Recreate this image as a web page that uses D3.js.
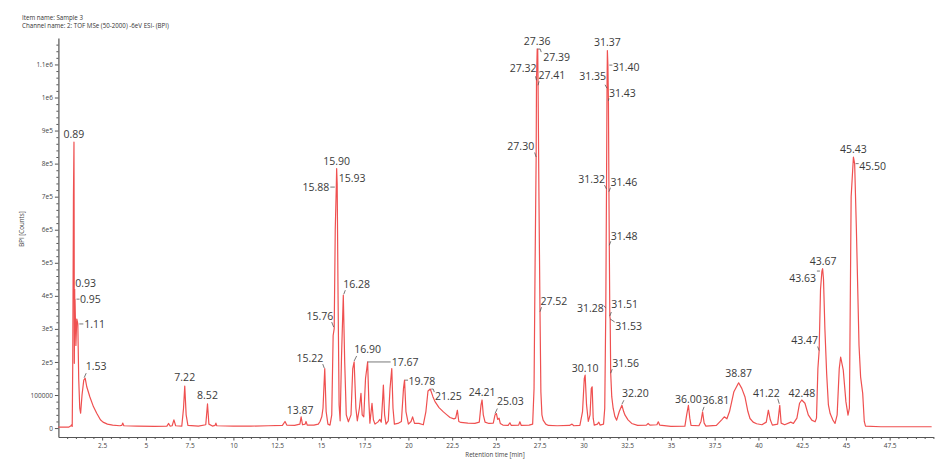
<!DOCTYPE html>
<html>
<head>
<meta charset="utf-8">
<script src="https://cdn.jsdelivr.net/npm/d3@7"></script>
<style>
  html, body { margin: 0; padding: 0; background: #fff; }
  svg { display: block; }
</style>
</head>
<body>
<svg id="chart" width="949" height="466"></svg>
<script>
// ---------------- DATA ----------------
const headerLines = ["Item name: Sample 3", "Channel name: 2: TOF MSe (50-2000) -6eV ESI- (BPI)"];
const xTitle = "Retention time [min]";
const yTitle = "BPI [Counts]";

const xTickValues = [2.5,5,7.5,10,12.5,15,17.5,20,22.5,25,27.5,30,32.5,35,37.5,40,42.5,45,47.5];
const xTickLabels = ["2.5","5","7.5","10","12.5","15","17.5","20","22.5","25","27.5","30","32.5","35","37.5","40","42.5","45","47.5"];
const yTickValues = [0,100000,200000,300000,400000,500000,600000,700000,800000,900000,1000000,1100000];
const yTickLabels = ["0","100000","2e5","3e5","4e5","5e5","6e5","7e5","8e5","9e5","1e6","1.1e6"];

// chromatogram trace: retention time (min) and intensity (counts)
const traceTime = [
 0.00,0.60,0.70,0.75,0.79,0.82,0.86,0.89,0.90,0.91,0.93,0.94,0.95,1.00,1.05,1.11,1.16,1.22,1.27,1.35,1.45,1.53,1.62,1.80,2.00,2.19,2.40,2.55,2.80,3.10,3.50,3.62,3.68,3.74,4.50,5.50,
 6.20,6.30,6.38,6.50,6.60,6.70,7.05,7.15,7.22,7.30,7.40,8.00,8.42,8.52,8.60,8.80,8.95,9.00,9.05,10.0,11.0,12.0,12.8,12.95,13.05,13.5,13.8,13.87,13.95,14.1,14.15,14.22,14.6,14.85,14.95,
 15.05,15.12,15.22,15.30,15.40,15.52,15.62,15.70,15.76,15.82,15.88,15.90,15.93,15.98,16.04,16.10,16.18,16.28,16.36,16.45,16.57,16.72,16.82,16.90,17.00,17.08,17.20,17.29,17.36,17.45,
 17.55,17.67,17.74,17.80,17.92,18.00,18.09,18.25,18.37,18.45,18.52,18.57,18.64,18.72,18.85,18.95,19.05,19.12,19.20,19.40,19.60,19.72,19.78,19.86,20.00,20.15,20.24,20.35,20.60,20.85,
 21.00,21.12,21.25,21.40,21.52,21.75,22.00,22.20,22.38,22.60,22.70,22.80,22.88,23.00,23.40,23.80,24.05,24.15,24.21,24.28,24.38,24.60,24.85,24.95,25.03,25.10,25.18,25.25,25.40,25.70,25.80,25.88,
 26.30,26.37,26.45,26.90,27.10,27.18,27.24,27.30,27.32,27.36,27.39,27.41,27.46,27.52,27.57,27.63,27.70,27.85,28.00,28.50,29.20,29.35,29.45,29.80,29.95,30.05,30.10,30.18,30.28,30.38,30.45,30.50,
 30.56,30.62,30.80,30.88,30.95,31.15,31.22,31.28,31.32,31.35,31.37,31.40,31.43,31.46,31.48,31.51,31.53,31.56,31.62,31.70,31.80,31.90,32.05,32.20,32.30,32.38,32.55,32.76,33.10,33.60,33.70,33.80,
 34.20,34.28,34.36,35.00,35.80,35.90,36.00,36.08,36.15,36.60,36.72,36.81,36.90,37.00,37.60,37.90,38.05,38.20,38.35,38.60,38.87,39.05,39.23,39.40,39.52,39.70,39.90,40.20,40.45,40.57,40.68,40.80,
 41.10,41.22,41.30,41.50,41.85,42.00,42.20,42.35,42.48,42.66,42.85,43.05,43.24,43.32,43.40,43.47,43.55,43.63,43.67,43.72,43.80,43.90,44.00,44.10,44.25,44.38,44.50,44.62,44.70,44.85,45.00,45.12,
 45.20,45.30,45.43,45.50,45.60,45.75,45.84,45.96,46.05,46.12,47.00,48.00,49.90
];
const traceIntensity = [
 3000,3000,6000,10000,5000,200000,700000,865000,600000,196000,420000,330000,390000,250000,330000,315000,150000,60000,45000,100000,145000,151000,125000,94000,65000,45000,25000,18000,12000,9000,7000,8000,15000,7000,6000,5000,
 6000,14000,6000,7000,25000,7000,6000,60000,127000,40000,8000,6000,10000,73000,12000,6000,8000,15000,7000,6000,6000,7000,8000,20000,9000,8000,12000,34000,10000,12000,20000,9000,9000,12000,20000,
 34000,60000,180000,50000,12000,9000,40000,280000,301000,600000,729000,785000,739000,400000,70000,22000,220000,402000,200000,40000,19000,40000,180000,200000,60000,22000,60000,105000,40000,34000,
 150000,200000,80000,15000,75000,25000,12000,18000,26000,18000,80000,130000,40000,12000,22000,120000,180000,60000,12000,14000,20000,120000,145000,50000,12000,20000,34000,14000,14000,10000,
 50000,112000,118000,95000,80000,62000,49000,40000,32000,28000,30000,54000,20000,17000,15000,14000,18000,70000,85000,40000,18000,14000,15000,40000,44000,26000,30000,14000,9000,8000,16000,8000,
 9000,19000,8000,9000,12000,120000,500000,820000,1052000,1147000,1145000,1037000,700000,352000,110000,40000,24000,12000,8000,7000,8000,12000,7000,8000,50000,150000,160000,70000,20000,40000,120000,125000,
 30000,9000,12000,18000,9000,12000,60000,363000,723000,1028000,1142000,1098000,990000,715000,553000,339000,330000,166000,95000,60000,35000,24000,50000,69000,50000,39000,25000,14000,8000,9000,14000,9000,
 10000,19000,9000,5000,6000,40000,69000,30000,8000,7000,20000,49000,15000,6000,8000,25000,34000,28000,50000,110000,137000,120000,95000,50000,29000,18000,13000,10000,18000,54000,25000,9000,
 12000,69000,15000,10000,18000,14000,30000,75000,85000,75000,40000,24000,19000,30000,180000,233000,420000,475000,482000,450000,300000,165000,70000,44000,25000,14000,40000,180000,215000,175000,80000,39000,
 60000,700000,820000,800000,600000,250000,155000,105000,20000,6000,4000,4000,4000
];

// annotated peaks
const peakLabels = ["0.89","0.93","0.95","1.11","1.53","7.22","8.52","13.87","15.22","15.76","15.88","15.90","15.93","16.28","16.90","17.67","19.78","21.25","24.21","25.03",
 "27.30","27.32","27.36","27.39","27.41","27.52","30.10","31.28","31.32","31.35","31.37","31.40","31.43","31.46","31.48","31.51","31.53","31.56","32.20","36.00","36.81","38.87",
 "41.22","42.48","43.47","43.63","43.67","45.43","45.50"];
const peakTimes = [0.89,0.93,0.95,1.11,1.53,7.22,8.52,13.87,15.22,15.76,15.88,15.90,15.93,16.28,16.90,17.67,19.78,21.25,24.21,25.03,
 27.30,27.32,27.36,27.39,27.41,27.52,30.10,31.28,31.32,31.35,31.37,31.40,31.43,31.46,31.48,31.51,31.53,31.56,32.20,36.00,36.81,38.87,
 41.22,42.48,43.47,43.63,43.67,45.43,45.50];
const peakValues = [865000,420000,390000,315000,151000,127000,73000,34000,180000,301000,729000,785000,739000,402000,200000,200000,145000,118000,85000,44000,
 820000,1052000,1147000,1145000,1037000,352000,160000,363000,723000,1028000,1142000,1098000,990000,715000,553000,339000,330000,166000,69000,69000,49000,137000,
 69000,85000,233000,475000,482000,820000,800000];

// label placement (pixel offsets from the annotated point) and leader strokes
const labelLayout = [
 ["middle",0,-4,null],["start",0.5,-2.5,null],["start",5,4,[[1.5,0],[4.5,0]]],["start",6.5,4,[[1.5,0],[5.5,0]]],["start",0.5,-8,[[-1,-0.5],[1,-5]]],
 ["middle",0,-5,null],["middle",0,-5,null],["middle",-1,-3,null],["end",-1.5,-6.5,[[-0.5,-0.5],[-2,-4.5]]],["end",-1,-8.5,[[-0.5,-1.5],[-2.5,-6.5]]],
 ["end",-7,3.5,[[-6,0],[-1.5,0]]],["middle",0,-3.5,null],["start",1.5,-2,null],["start",0,-7.5,[[0.5,-1],[2,-5]]],["start",0,-8.6,[[0,-1],[2.5,-6]]],
 ["start",24,4.5,[[0,0],[23,0]]],["start",4,5,[[0.5,0],[3.5,0]]],["start",4.7,11,[[1,0],[3,0],[4,3]]],["middle",0,-3.5,null],["start",0.5,-8.5,[[-1.4,0],[0.9,-5]]],
 ["end",-2,-6.7,[[-1.5,-4.5],[0,0]]],["end",0,-8.3,[[-1,-4],[0,0]]],["middle",0,-4,null],["start",5.6,11.6,[[0,-0.5],[2.5,-0.5],[3.5,2.5]]],["start",0.5,-6.7,[[0,0],[1,-4]]],
 ["start",0.5,-6.7,[[0,0],[1.5,-4.5]]],["middle",0,-3,null],["end",-2,3.7,[[-2,-2.5],[0,0]]],["end",-1.5,-6,[[-2,-4],[0,0]]],["end",-1,-8,[[-2,-3.5],[0,0]]],
 ["middle",0,-4.5,null],["start",4.8,5.4,[[1.4,0],[4.5,0]]],["start",0.5,-4,[[0,0],[0.5,-2.5]]],["start",1.5,-5.7,[[0,0],[1.5,-4]]],["start",1.5,-5.7,[[0,0],[1.5,-4]]],
 ["start",1.5,-8,[[0,0],[1.5,-4]]],["start",5,11,[[0,0],[4.5,3]]],["start",1.5,-5.7,[[0,0],[1.5,-4]]],["start",0,-8,[[0,-1],[2,-5]]],["middle",0,-2.5,null],
 ["start",0,-8,[[0,-1],[1.5,-5]]],["middle",0,-5.5,null],["end",0,-8.5,[[-2,-6.5],[-0.5,-1.5]]],["middle",0,-3,null],["end",-1,-7,[[-1.5,-4.5],[0,-0.5]]],
 ["end",-6,10.5,[[-5,0],[-2,0]]],["start",-13,-3.6,null],["middle",0,-3.6,null],["start",4.7,6.5,[[1,0],[4,0]]]
];

// ---------------- DRAW ----------------
const svg = d3.select("#chart");
svg.append("rect").attr("width",949).attr("height",466).attr("fill","#fff");

const x = d3.scaleLinear().domain([0, 50]).range([58.4, 933.4]);
const y = d3.scaleLinear().domain([-27000, 1180000]).range([437, 38]);

// header
svg.append("g").selectAll("text").data(headerLines).join("text")
  .attr("x", 22).attr("y", (d,i) => 20 + i*8)
  .attr("font-family", "Open Sans, sans-serif").attr("font-size", 6.2).attr("fill", "#333")
  .text(d => d);

const axisColor = "#555";
const tickFont = "Open Sans, sans-serif";

// minor ticks
const xMinor = d3.range(0.5, 50.01, 0.5).filter(v => !xTickValues.includes(v));
svg.append("g").attr("transform", `translate(0,${y.range()[0]})`)
  .call(d3.axisBottom(x).tickValues(xMinor).tickSize(2).tickFormat(""))
  .call(g => g.select(".domain").remove())
  .call(g => g.selectAll("line").attr("stroke", axisColor));
const yMinor = d3.range(20000, 1180000, 20000).filter(v => !yTickValues.includes(v));
svg.append("g").attr("transform", `translate(${x.range()[0]},0)`)
  .call(d3.axisLeft(y).tickValues(yMinor).tickSize(2).tickFormat(""))
  .call(g => g.select(".domain").remove())
  .call(g => g.selectAll("line").attr("stroke", axisColor));

// major axes
const xAxis = svg.append("g").attr("transform", `translate(0,${y.range()[0]})`)
  .call(d3.axisBottom(x).tickValues(xTickValues).tickSize(3.5).tickPadding(3)
        .tickFormat((d,i) => xTickLabels[i]).tickSizeOuter(0));
xAxis.select(".domain").attr("stroke", axisColor).attr("stroke-width", 1.2);
xAxis.selectAll("line").attr("stroke", axisColor);
xAxis.selectAll("text").attr("font-family", tickFont).attr("font-size", 6.5).attr("fill", "#444");

const yAxis = svg.append("g").attr("transform", `translate(${x.range()[0]},0)`)
  .call(d3.axisLeft(y).tickValues(yTickValues).tickSize(3.5).tickPadding(2)
        .tickFormat((d,i) => yTickLabels[i]).tickSizeOuter(0));
yAxis.select(".domain").attr("stroke", axisColor).attr("stroke-width", 1.2);
yAxis.selectAll("line").attr("stroke", axisColor);
yAxis.selectAll("text").attr("font-family", tickFont).attr("font-size", 6.5).attr("fill", "#444");

// axis titles
svg.append("text").attr("x", 495).attr("y", 457).attr("text-anchor", "middle")
  .attr("font-family", tickFont).attr("font-size", 6.2).attr("fill", "#444").text(xTitle);
svg.append("text").attr("transform", "translate(24,229) rotate(-90)").attr("text-anchor", "middle")
  .attr("font-family", tickFont).attr("font-size", 6.2).attr("fill", "#444").text(yTitle);

// trace
const pts = traceTime.map((t,i) => [t, traceIntensity[i]]);
const line = d3.line().x(d => x(d[0])).y(d => y(d[1]));
svg.append("path").datum(pts)
  .attr("d", line).attr("fill", "none")
  .attr("stroke", "#ef5050").attr("stroke-width", 1.2).attr("stroke-linejoin", "round");

// peak labels
const lab = svg.append("g");
peakLabels.forEach((txt, i) => {
  const px = x(peakTimes[i]), py = y(peakValues[i]);
  const [anchor, dx, dy, lead] = labelLayout[i];
  if (lead) {
    lab.append("path")
      .attr("d", d3.line()(lead.map(p => [px + p[0], py + p[1]])))
      .attr("fill", "none").attr("stroke", "#555").attr("stroke-width", 0.8);
  }
  lab.append("text")
    .attr("x", px + dx).attr("y", py + dy)
    .attr("text-anchor", anchor)
    .attr("font-family", "Open Sans, sans-serif").attr("font-size", 10.5)
    .attr("fill", "#3a3a3a").text(txt);
});
</script>
</body>
</html>
